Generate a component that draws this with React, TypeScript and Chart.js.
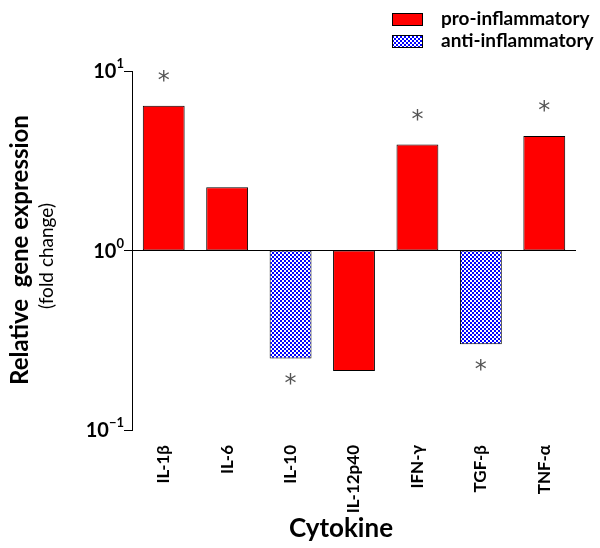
import React, { useEffect, useRef } from "react";
import { Chart, registerables } from "chart.js";

Chart.register(...registerables);

const categories = ["IL-1β", "IL-6", "IL-10", "IL-12p40", "IFN-γ", "TGF-β", "TNF-α"];
const proValues = [6.4, 2.25, null, 0.213, 3.9, null, 4.35];
const antiValues = [null, null, 0.25, null, null, 0.3, null];
const significant = [true, false, true, false, true, true, true];
const yTicks = [0.1, 1, 10];

const FONT = "Lato, 'Open Sans', sans-serif";

function makePattern(): CanvasPattern | string {
  const c = document.createElement("canvas");
  c.width = 4;
  c.height = 4;
  const g = c.getContext("2d");
  if (!g) return "#0000ff";
  g.fillStyle = "#ffffff";
  g.fillRect(0, 0, 4, 4);
  g.fillStyle = "#0000ff";
  g.fillRect(0, 0, 2, 2);
  g.fillRect(2, 2, 2, 2);
  const p = g.createPattern(c, "repeat");
  return p || "#0000ff";
}

export default function App() {
  const ref = useRef<HTMLCanvasElement>(null);
  useEffect(() => {
    document.body.style.margin = "0";
    const pattern = makePattern();
    const drawPlugin = {
      id: "customDraw",
      afterDraw(chart: any) {
        const ctx = chart.ctx as CanvasRenderingContext2D;
        const y = chart.scales.y;
        const area = chart.chartArea;
        ctx.save();
        // y tick labels
        ctx.fillStyle = "#000";
        ctx.textBaseline = "middle";
        for (const v of yTicks) {
          const py = y.getPixelForValue(v);
          const exp = String(Math.round(Math.log10(v))).replace("-", "\u2212");
          ctx.font = `bold 13px ${FONT}`;
          const ew = ctx.measureText(exp).width;
          const right = area.left - 8;
          ctx.textAlign = "left";
          ctx.fillText(exp, right - ew, py - 7);
          ctx.font = `bold 20px ${FONT}`;
          ctx.textAlign = "right";
          ctx.fillText("10", right - ew, py + 1);
        }
        // y title
        ctx.save();
        ctx.translate(20, 250);
        ctx.rotate(-Math.PI / 2);
        ctx.textAlign = "center";
        ctx.textBaseline = "middle";
        ctx.font = `bold 24px ${FONT}`;
        ctx.fillText("Relative  gene expression", 0, 0);
        ctx.restore();
        ctx.save();
        ctx.translate(47, 256);
        ctx.rotate(-Math.PI / 2);
        ctx.textAlign = "center";
        ctx.textBaseline = "middle";
        ctx.font = `19px ${FONT}`;
        ctx.fillText("(fold change)", 0, 0);
        ctx.restore();
        // x title
        ctx.textAlign = "center";
        ctx.textBaseline = "middle";
        ctx.font = `bold 26px ${FONT}`;
        ctx.fillText("Cytokine", 341, 529);
        // legend
        const items = chart.data.datasets;
        items.forEach((ds: any, i: number) => {
          const by = 13 + i * 22;
          ctx.fillStyle = ds.backgroundColor;
          ctx.fillRect(392, by, 31, 13);
          ctx.strokeStyle = "#000";
          ctx.lineWidth = 1;
          ctx.strokeRect(392.5, by + 0.5, 30, 12);
          ctx.fillStyle = "#000";
          ctx.textAlign = "left";
          ctx.textBaseline = "middle";
          ctx.font = `bold 19px ${FONT}`;
          ctx.fillText(ds.label, 441, by + 6);
        });
        // asterisks
        ctx.fillStyle = "#555";
        ctx.font = `24px 'DejaVu Sans', sans-serif`;
        ctx.textAlign = "center";
        ctx.textBaseline = "middle";
        chart.data.datasets.forEach((ds: any, di: number) => {
          const meta = chart.getDatasetMeta(di);
          meta.data.forEach((bar: any, idx: number) => {
            const raw = ds.data[idx];
            if (raw == null || !significant[idx]) return;
            const val = raw[1];
            const end = y.getPixelForValue(val);
            const py = val >= 1 ? end - 24 : end + 26;
            ctx.fillText("*", bar.x, py);
          });
        });
        ctx.restore();
      },
    };
    const chart = new Chart(ref.current as HTMLCanvasElement, {
      type: "bar",
      data: {
        labels: categories,
        datasets: [
          {
            label: "pro-inflammatory",
            data: proValues.map((v) => (v == null ? null : [1, v])) as any,
            backgroundColor: "#ff0000",
            borderColor: "#000",
            borderWidth: 1,
            borderSkipped: false,
          },
          {
            label: "anti-inflammatory",
            data: antiValues.map((v) => (v == null ? null : [1, v])) as any,
            backgroundColor: pattern as any,
            borderColor: "#000",
            borderWidth: 1,
            borderSkipped: false,
          },
        ],
      },
      options: {
        animation: false,
        responsive: false,
        grouped: false,
        barPercentage: 0.66,
        categoryPercentage: 1,
        layout: { padding: { top: 71, right: 24, left: 0, bottom: 0 } },
        plugins: { legend: { display: false }, tooltip: { enabled: false } },
        scales: {
          x: {
            grid: { display: false },
            border: { display: false },
            ticks: {
              minRotation: 90,
              maxRotation: 90,
              padding: 7,
              color: "#000",
              font: { family: FONT, weight: "bold", size: 17 },
            },
            afterFit(scale: any) {
              scale.height = 118;
            },
          },
          y: {
            type: "logarithmic",
            min: 0.1,
            max: 10,
            afterBuildTicks(scale: any) {
              scale.ticks = yTicks.map((v) => ({ value: v }));
            },
            afterFit(scale: any) {
              scale.width = 132;
            },
            border: { display: true, color: "#000", width: 1 },
            grid: {
              color: (c: any) => (c.tick && c.tick.value === 1 ? "#000" : "rgba(0,0,0,0)"),
              tickColor: "#000",
              tickLength: 8,
              lineWidth: 1,
            },
            ticks: { display: false },
          },
        },
      } as any,
      plugins: [drawPlugin],
    });
    return () => chart.destroy();
  }, []);
  return (
    <div style={{ position: "absolute", left: 0, top: 0, width: 600, height: 548 }}>
      <canvas ref={ref} width={600} height={548} />
    </div>
  );
}
